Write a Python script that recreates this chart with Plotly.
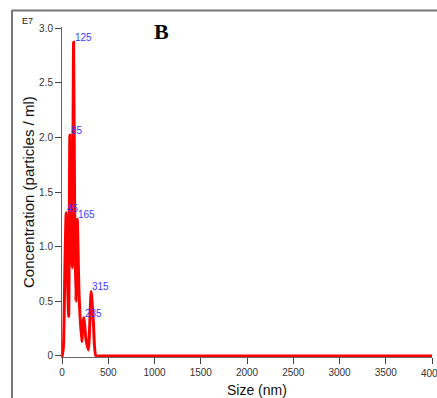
import plotly.graph_objects as go

# Data (concentration in units of 1E7 particles/ml)
size_nm = [0, 15, 30, 45, 60, 72, 85, 98, 111, 125, 138, 150, 165, 185, 213, 235, 260, 285, 315, 340, 368, 420, 4000]
conc_e7 = [-0.01, 0.08, 0.75, 1.31, 0.7, 0.36, 2.02, 1.4, 0.81, 2.87, 1.2, 0.5, 1.25, 0.55, 0.13, 0.35, 0.15, 0.055, 0.59, 0.3, 0.0, 0.0, 0.0]

peak_sizes = [45, 85, 125, 165, 235, 315]
peak_vals = [1.31, 2.02, 2.87, 1.25, 0.35, 0.59]
peak_labels = ["45", "85", "125", "165", "235", "315"]

x_ticks = [0, 500, 1000, 1500, 2000, 2500, 3000, 3500, 4000]
y_ticks = [0, 0.5, 1.0, 1.5, 2.0, 2.5, 3.0]
y_tick_text = ["0", "0.5", "1.0", "1.5", "2.0", "2.5", "3.0"]

W, H = 437, 398
L, R, T, B = 62, 5, 27, 41
pw, ph = W - L - R, H - T - B

def px(xp):
    return (xp - L) / pw

def py(yp):
    return (H - B - yp) / ph

fig = go.Figure()
fig.add_trace(go.Scatter(
    x=size_nm, y=conc_e7, mode="lines",
    line=dict(color="#ff0000", width=3, shape="spline", smoothing=0.6),
    hoverinfo="skip", showlegend=False,
))

annotations = []
for xs, yv, lab in zip(peak_sizes, peak_vals, peak_labels):
    annotations.append(dict(
        x=xs, y=yv, xref="x", yref="y", text=lab, showarrow=False,
        xanchor="left", yanchor="bottom", yshift=-3, xshift=-1,
        font=dict(family="Arial", size=10, color="#3b3bff"),
    ))

# Last x tick label (clipped at the right edge, as in the reference)
annotations.append(dict(
    x=x_ticks[-1], y=py(373), xref="x", yref="paper", text=str(x_ticks[-1]),
    showarrow=False, xanchor="center", yanchor="middle",
    font=dict(family="Arial", size=10, color="#333"),
))

annotations += [
    dict(x=px(28), y=py(192), xref="paper", yref="paper",
         text="Concentration (particles / ml)", showarrow=False, textangle=-90,
         xanchor="center", yanchor="middle",
         font=dict(family="Arial", size=15, color="#111")),
    dict(x=px(257), y=py(390), xref="paper", yref="paper",
         text="Size (nm)", showarrow=False, xanchor="center", yanchor="middle",
         font=dict(family="Arial", size=14, color="#111")),
    dict(x=px(27), y=py(21), xref="paper", yref="paper",
         text="E7", showarrow=False, xanchor="center", yanchor="middle",
         font=dict(family="Arial", size=9, color="#222")),
    dict(x=px(161), y=py(32), xref="paper", yref="paper",
         text="<b>B</b>", showarrow=False, xanchor="center", yanchor="middle",
         font=dict(family="Liberation Serif", size=22, color="#000")),
]

shapes = [
    dict(type="line", xref="paper", yref="paper",
         x0=px(12), x1=px(437), y0=py(10.5), y1=py(10.5),
         line=dict(color="#777", width=2)),
    dict(type="line", xref="paper", yref="paper",
         x0=px(12), x1=px(12), y0=py(10), y1=py(398),
         line=dict(color="#777", width=2)),
]

fig.update_layout(
    width=W, height=H,
    margin=dict(l=L, r=R, t=T, b=B),
    paper_bgcolor="white", plot_bgcolor="white",
    annotations=annotations, shapes=shapes,
    xaxis=dict(range=[0, 4000], tickvals=x_ticks, ticks="outside", ticklen=6,
               tickcolor="#444", showline=True, linecolor="#666", linewidth=1,
               showgrid=False, zeroline=False,
               tickfont=dict(family="Arial", size=10, color="#333")),
    yaxis=dict(range=[-0.01, 3.01], tickvals=y_ticks, ticktext=y_tick_text,
               ticks="outside", ticklen=6, tickcolor="#444",
               showline=True, linecolor="#666", linewidth=1,
               showgrid=False, zeroline=False,
               tickfont=dict(family="Arial", size=10, color="#333")),
)

fig.write_html(
    "out.html",
    config={"displayModeBar": False},
    post_script="document.body.style.margin='0';document.body.style.overflow='hidden';",
)
